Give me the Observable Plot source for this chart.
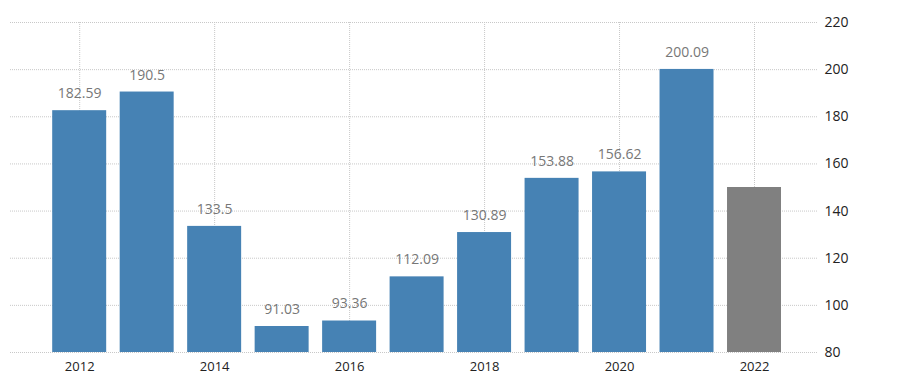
<!DOCTYPE html>
<html>
<head>
<meta charset="utf-8">
<script src="https://cdn.jsdelivr.net/npm/d3@7"></script>
<script src="https://cdn.jsdelivr.net/npm/@observablehq/plot@0.6"></script>
<style>
  html, body { margin: 0; padding: 0; background: #fff; }
  #chart svg { display: block; }
</style>
</head>
<body>
<div id="chart"></div>
<script>
const years = [2012, 2013, 2014, 2015, 2016, 2017, 2018, 2019, 2020, 2021, 2022];
const values = [182.59, 190.5, 133.5, 91.03, 93.36, 112.09, 130.89, 153.88, 156.62, 200.09, 150];
const labels = ["182.59", "190.5", "133.5", "91.03", "93.36", "112.09", "130.89", "153.88", "156.62", "200.09", ""];
const kinds = ["actual", "actual", "actual", "actual", "actual", "actual", "actual", "actual", "actual", "actual", "forecast"];
const yTicks = [80, 100, 120, 140, 160, 180, 200, 220];
const xTicks = [2012, 2014, 2016, 2018, 2020, 2022];

const data = years.map((year, i) => ({year, value: values[i], label: labels[i], kind: kinds[i]}));
const base = yTicks[0];

const chart = Plot.plot({
  width: 907,
  height: 388,
  marginLeft: 10,
  marginRight: 89,
  marginTop: 22,
  marginBottom: 36,
  style: {fontFamily: "'Open Sans', 'DejaVu Sans', sans-serif", background: "#fff"},
  x: {type: "band", domain: years, range: [38.7, 794.5], padding: 0.2, round: false, label: null},
  y: {domain: [yTicks[0], yTicks[yTicks.length - 1]], label: null},
  color: {domain: ["actual", "forecast"], range: ["#4682b4", "#808080"]},
  marks: [
    Plot.ruleY(yTicks, {stroke: "#c8c8c8", strokeDasharray: "1,1", strokeWidth: 1}),
    Plot.ruleX(xTicks, {stroke: "#c8c8c8", strokeDasharray: "1,1", strokeWidth: 1}),
    Plot.barY(data, {x: "year", y1: base, y2: "value", fill: "kind"}),
    Plot.text(data, {x: "year", y: "value", text: "label", dy: -17, fill: "#777", fontSize: 14}),
    Plot.axisY(yTicks, {anchor: "right", tickSize: 0, tickPadding: 6, fontSize: 14, color: "#222", label: null, tickFormat: d => String(d)}),
    Plot.axisX(xTicks, {anchor: "bottom", tickSize: 0, tickPadding: 9, fontSize: 13, color: "#222", label: null, tickFormat: d => String(d)})
  ]
});
document.getElementById("chart").appendChild(chart);
</script>
</body>
</html>
